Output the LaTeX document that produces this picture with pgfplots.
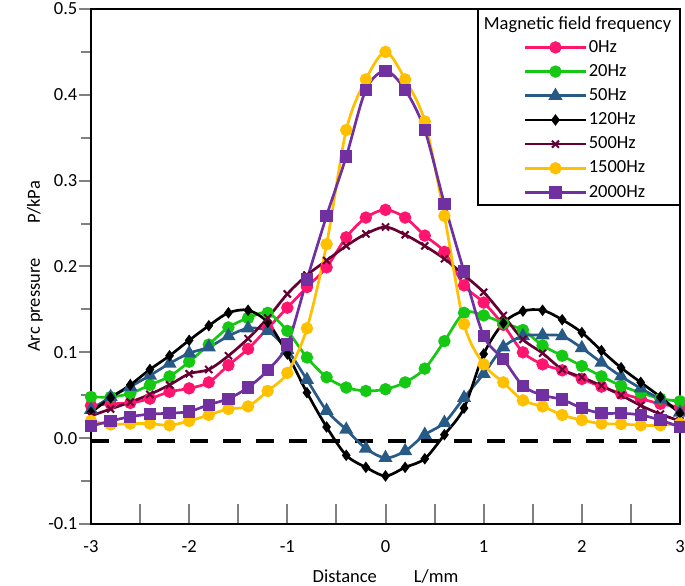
\documentclass[border=0pt]{standalone}
\usepackage{pgfplots}
\usepackage{pgfplotstable}
\pgfplotsset{compat=1.18}
\usepackage{fontspec}
\setmainfont{Carlito}
\definecolor{cpink}{RGB}{255,20,110}
\definecolor{cgreen}{RGB}{20,200,20}
\definecolor{cblue}{RGB}{40,90,135}
\definecolor{cmaroon}{RGB}{100,0,50}
\definecolor{cyellow}{RGB}{255,192,0}
\definecolor{cpurple}{RGB}{112,48,160}
\pgfplotstableread{
x p0 p20 p50 p120 p500 p1500 p2000
-3.0 0.038 0.048 0.033 0.030 0.026 0.020 0.014
-2.8 0.040 0.048 0.048 0.047 0.034 0.016 0.020
-2.6 0.041 0.052 0.060 0.062 0.042 0.017 0.025
-2.4 0.046 0.062 0.073 0.080 0.051 0.017 0.028
-2.2 0.054 0.072 0.087 0.096 0.062 0.015 0.029
-2.0 0.058 0.089 0.099 0.114 0.075 0.020 0.031
-1.8 0.065 0.109 0.106 0.131 0.080 0.027 0.039
-1.6 0.085 0.129 0.119 0.146 0.096 0.034 0.046
-1.4 0.104 0.140 0.128 0.149 0.116 0.037 0.059
-1.2 0.128 0.146 0.125 0.135 0.140 0.055 0.079
-1.0 0.152 0.125 0.103 0.098 0.168 0.076 0.109
-0.8 0.176 0.094 0.068 0.053 0.190 0.128 0.185
-0.6 0.199 0.071 0.032 0.013 0.207 0.226 0.259
-0.4 0.234 0.059 0.010 -0.020 0.224 0.359 0.328
-0.2 0.257 0.055 -0.012 -0.034 0.238 0.418 0.406
0.0 0.266 0.057 -0.023 -0.044 0.246 0.450 0.428
0.2 0.257 0.065 -0.015 -0.034 0.237 0.418 0.406
0.4 0.236 0.081 0.004 -0.024 0.224 0.369 0.359
0.6 0.217 0.113 0.018 0.004 0.209 0.259 0.273
0.8 0.178 0.146 0.047 0.035 0.190 0.133 0.194
1.0 0.158 0.143 0.075 0.098 0.170 0.086 0.119
1.2 0.132 0.134 0.106 0.134 0.143 0.065 0.092
1.4 0.100 0.126 0.119 0.148 0.115 0.044 0.061
1.6 0.086 0.108 0.120 0.149 0.099 0.037 0.050
1.8 0.079 0.096 0.119 0.138 0.080 0.027 0.045
2.0 0.069 0.084 0.105 0.123 0.071 0.021 0.035
2.2 0.060 0.072 0.088 0.102 0.061 0.017 0.029
2.4 0.052 0.061 0.072 0.082 0.050 0.0165 0.029
2.6 0.046 0.053 0.058 0.065 0.038 0.015 0.027
2.8 0.040 0.046 0.045 0.048 0.028 0.015 0.021
3.0 0.036 0.043 0.030 0.029 0.020 0.017 0.013
}\datatable
\begin{document}
\fontsize{18.5}{22}\selectfont
\begin{tikzpicture}
\begin{axis}[
  scale only axis, width=589pt, height=515pt,
  xmin=-3, xmax=3, ymin=-0.1, ymax=0.5,
  clip=false,
  xtick={-3,-2,...,3}, minor xtick={-2.5,-1.5,...,2.5},
  ytick={-0.1,0,0.1,0.2,0.3,0.4,0.5},
  minor ytick={-0.05,0.05,0.15,0.25,0.35,0.45},
  yticklabel style={/pgf/number format/fixed, /pgf/number format/fixed zerofill, /pgf/number format/precision=1, xshift=-3pt},
  /pgf/number format/assume math mode=true,
  xtick pos=bottom, ytick pos=left,
  xtick align=inside, ytick align=outside,
  xtick style={line width=2pt, /pgfplots/major tick length=20pt, /pgfplots/minor tick length=20pt},
  ytick style={line width=2pt, /pgfplots/major tick length=12pt, /pgfplots/minor tick length=10pt},
  axis line style={line width=2.5pt},
  xticklabel style={yshift=-10pt},
  xlabel={Distance\hspace{37pt}L/mm},
  ylabel={Arc pressure\hspace{35pt}P/kPa},
  xlabel style={at={(axis description cs:0.5,-0.102)}, anchor=center},
  ylabel style={at={(axis description cs:-0.095,0.5)}, anchor=center},
  legend style={draw=none, fill=none, at={(rel axis cs:0.735,0.944)}, anchor=north west,
    row sep=5.4pt, inner sep=0pt, font=\fontsize{18.5}{22}\selectfont},
  legend cell align=left,
  legend image code/.code={\draw[mark repeat=2,mark phase=2] plot coordinates {(0pt,0pt)(30pt,0pt)(60pt,0pt)};},
  every axis plot/.append style={line width=2.7pt, smooth},
]
\addplot[black, dash pattern=on 18pt off 15pt, line width=4pt, forget plot, sharp plot] coordinates {(-3,-0.003) (3,-0.003)};
\addplot[cpink, mark=*, mark size=4.8pt] table[x=x,y=p0] {\datatable};
\addlegendentry{0Hz}
\addplot[cgreen, mark=*, mark size=4.8pt] table[x=x,y=p20] {\datatable};
\addlegendentry{20Hz}
\addplot[cblue, mark=triangle*, mark size=5.5pt] table[x=x,y=p50] {\datatable};
\addlegendentry{50Hz}
\addplot[black, mark=diamond*, mark size=3.6pt] table[x=x,y=p120] {\datatable};
\addlegendentry{120Hz}
\addplot[cmaroon, mark=x, mark size=5pt, mark options={line width=2pt}] table[x=x,y=p500] {\datatable};
\addlegendentry{500Hz}
\addplot[cyellow, mark=*, mark size=4.8pt] table[x=x,y=p1500] {\datatable};
\addlegendentry{1500Hz}
\addplot[cpurple, mark=square*, mark size=4.8pt] table[x=x,y=p2000] {\datatable};
\addlegendentry{2000Hz}
\draw[line width=2pt] (rel axis cs:0.657,1) |- (rel axis cs:1,0.62);
\node[anchor=base] at (rel axis cs:0.826,0.96) {Magnetic field frequency};
\coordinate (bl) at (rel axis cs:0,0);
\coordinate (tr) at (rel axis cs:1,1);
\end{axis}
\pgfresetboundingbox
\path[use as bounding box] ([shift={(-91pt,-62pt)}]bl) rectangle ([shift={(5pt,9pt)}]tr);
\end{tikzpicture}
\end{document}
